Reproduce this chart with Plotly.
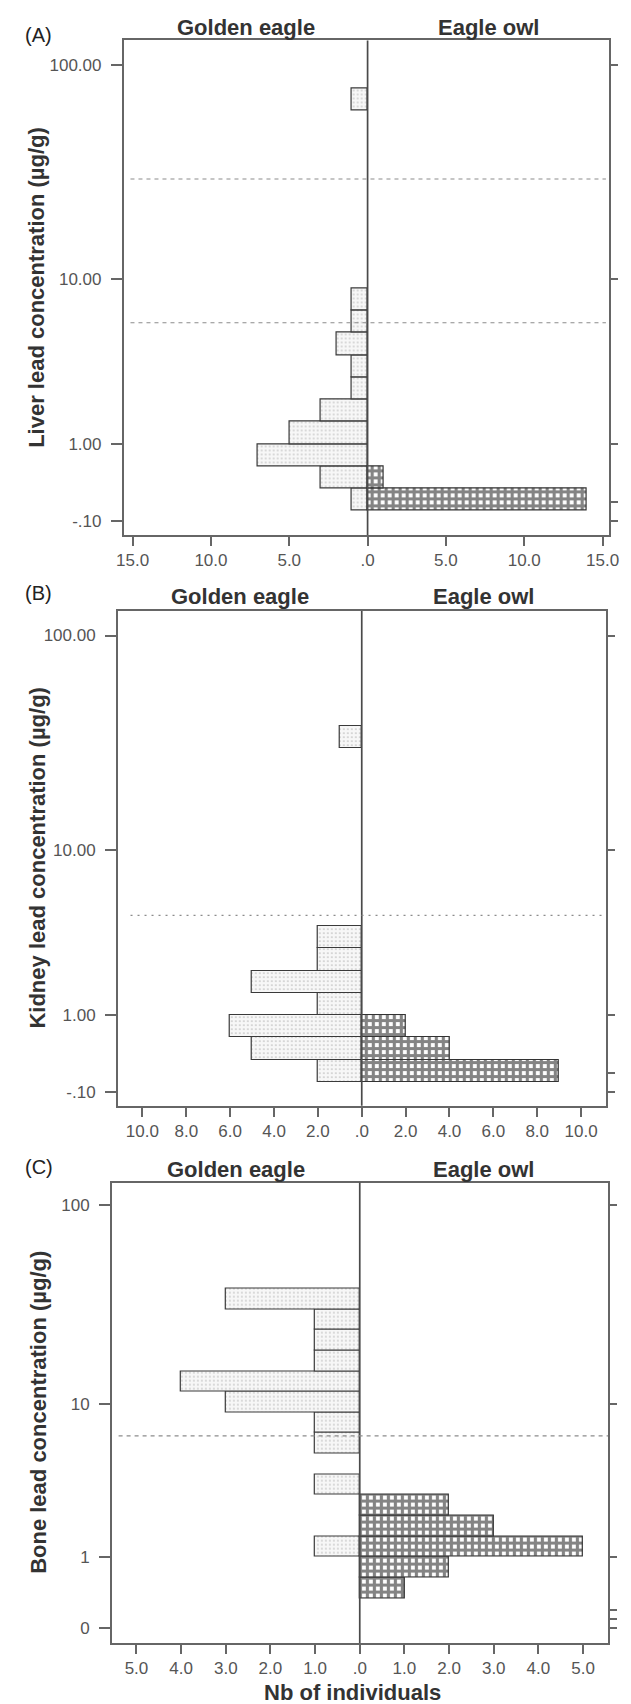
import numpy as np
import plotly.graph_objects as go

# ---------------- data (bins are 0.1-wide classes of log10(concentration + 1)) -------------
liver_golden_bins = [0, 1, 2, 3, 4, 5, 6, 7, 8, 9, 18]
liver_golden_counts = [1, 3, 7, 5, 3, 1, 1, 2, 1, 1, 1]
liver_owl_bins = [0, 1]
liver_owl_counts = [14, 1]

kidney_golden_bins = [0, 1, 2, 3, 4, 5, 6, 15]
kidney_golden_counts = [2, 5, 6, 2, 5, 2, 2, 1]
kidney_owl_bins = [0, 1, 2]
kidney_owl_counts = [9, 4, 2]

bone_golden_bins = [3, 6, 8, 9, 10, 11, 12, 13, 14, 15]
bone_golden_counts = [1, 1, 1, 1, 3, 4, 1, 1, 1, 3]
bone_owl_bins = [1, 2, 3, 4, 5]
bone_owl_counts = [1, 2, 5, 3, 2]

liver_thresholds = [6, 30]      # µg/g
kidney_thresholds = [4.6]
bone_thresholds = [6.7]

conc_ticks_ab = [100, 10, 1, -0.1]
conc_ticktext_ab = ["100.00", "10.00", "1.00", "-.10"]
conc_ticks_c = [100, 10, 1, -0.1]
conc_ticktext_c = ["100", "10", "1", "0"]
right_ticks_ab = [100, 10, 1, 0.1, -0.1]
right_ticks_c = [100, 10, 1, 0.1, 0, -0.1]

count_ticks_a = [15, 10, 5, 0, 5, 10, 15]
count_ticks_b = [10, 8, 6, 4, 2, 0, 2, 4, 6, 8, 10]
count_ticks_c = [5, 4, 3, 2, 1, 0, 1, 2, 3, 4, 5]

species = ["Golden eagle", "Eagle owl"]
ytitles = ["Liver lead concentration (µg/g)",
           "Kidney lead concentration (µg/g)",
           "Bone lead concentration (µg/g)"]
panel_labels = ["(A)", "(B)", "(C)"]
xtitle = "Nb of individuals"

BIN = 0.1


def tr(c):
    return np.log10(np.asarray(c, dtype=float) + 1.0)


def fmt_count(v):
    return ".0" if v == 0 else f"{abs(v):.1f}"


# ---------------- layout geometry (pixels) ----------------
W, H = 631, 1704
FONT = "Liberation Sans, Arial, sans-serif"
TICKFONT = "Liberation Sans Narrow, Arial Narrow, Liberation Sans, Arial, sans-serif"

panels = [
    dict(box=(119.9, 619.0, 40.4, 535.0), xr=(-15.57, 15.43), yr=(-0.109, 2.114),
         gb=liver_golden_bins, gc=liver_golden_counts, ob=liver_owl_bins, oc=liver_owl_counts,
         thr=liver_thresholds, thr_dash="4px,4px", thr_x=(0.014, 0.993),
         xt=count_ticks_a, xt_sign=[-1, -1, -1, 0, 1, 1, 1],
         yt=conc_ticks_ab, ytt=conc_ticktext_ab, rt=right_ticks_ab,
         head_y=27, lab_y=35, ytitle_x=31),
    dict(box=(113.9, 615.7, 611.1, 1105.7), xr=(-11.12, 11.14), yr=(-0.106, 2.114),
         gb=kidney_golden_bins, gc=kidney_golden_counts, ob=kidney_owl_bins, oc=kidney_owl_counts,
         thr=kidney_thresholds, thr_dash="2px,5px", thr_x=(0.026, 0.995),
         xt=count_ticks_b, xt_sign=[-1] * 5 + [0] + [1] * 5,
         yt=conc_ticks_ab, ytt=conc_ticktext_ab, rt=right_ticks_ab,
         head_y=597, lab_y=593, ytitle_x=31),
    dict(box=(107.8, 617.7, 1182.6, 1642.9), xr=(-5.55, 5.56), yr=(-0.116, 2.113),
         gb=bone_golden_bins, gc=bone_golden_counts, ob=bone_owl_bins, oc=bone_owl_counts,
         thr=bone_thresholds, thr_dash="4px,4px", thr_x=(0.0135, 1.0),
         xt=count_ticks_c, xt_sign=[-1] * 5 + [0] + [1] * 5,
         yt=conc_ticks_c, ytt=conc_ticktext_c, rt=right_ticks_c,
         head_y=1169, lab_y=1166.5, ytitle_x=33),
]

fig = go.Figure()
annotations = []
shapes = []

golden_marker = dict(color="#f6f6f6", line=dict(color="#3a3a3a", width=1.2),
                     pattern=dict(shape=".", fgcolor="#808080", bgcolor="#f7f7f7",
                                  size=4, solidity=0.14))
owl_marker = dict(color="#111111", line=dict(color="#333333", width=1.2),
                  pattern=dict(shape="+", fgcolor="#0a0a0a", bgcolor="#ffffff",
                               size=7, solidity=0.7))

axis_font = dict(family=TICKFONT, size=17, color="#555555")

for i, p in enumerate(panels):
    n = i + 1
    xa = "x" if n == 1 else f"x{n}"
    ya = "y" if n == 1 else f"y{n}"
    yr_name = f"y{n + 3}"
    x0, x1, yt0, yb0 = p["box"]
    xdom = [x0 / W, x1 / W]
    ydom = [1 - yb0 / H, 1 - yt0 / H]

    # Golden eagle (left, negative counts)
    fig.add_trace(go.Bar(
        x=-np.asarray(p["gc"], dtype=float),
        y=(np.asarray(p["gb"]) + 0.5) * BIN,
        width=BIN, orientation="h", marker=golden_marker,
        xaxis=xa, yaxis=ya, showlegend=False, name=species[0]))
    # Eagle owl (right)
    fig.add_trace(go.Bar(
        x=np.asarray(p["oc"], dtype=float),
        y=(np.asarray(p["ob"]) + 0.5) * BIN,
        width=BIN, orientation="h", marker=owl_marker,
        xaxis=xa, yaxis=ya, showlegend=False, name=species[1]))
    # dummy trace for the right-side tick axis
    fig.add_trace(go.Scatter(x=[None], y=[None], xaxis=xa, yaxis=yr_name,
                             showlegend=False, hoverinfo="skip"))

    xkey = "xaxis" if n == 1 else f"xaxis{n}"
    ykey = "yaxis" if n == 1 else f"yaxis{n}"
    tickvals_x = [s * v for s, v in zip(p["xt_sign"], p["xt"])]
    fig.update_layout(**{
        xkey: dict(domain=xdom, anchor=ya, range=list(p["xr"]),
                   tickmode="array", tickvals=tickvals_x,
                   ticktext=[fmt_count(v) for v in tickvals_x],
                   ticks="outside", ticklen=9, tickwidth=1.5, tickcolor="#666666",
                   showline=True, linecolor="#666666", linewidth=1.6, mirror=True,
                   showgrid=False, zeroline=False, tickfont=axis_font,
                   ticklabelstandoff=0, fixedrange=True),
        ykey: dict(domain=ydom, anchor=xa, range=list(p["yr"]),
                   tickmode="array", tickvals=list(tr(p["yt"])), ticktext=p["ytt"],
                   ticks="outside", ticklen=11, tickwidth=1.5, tickcolor="#666666",
                   showline=True, linecolor="#666666", linewidth=1.6, mirror=True,
                   showgrid=False, zeroline=False, tickfont=axis_font,
                   ticklabelstandoff=6, fixedrange=True),
        f"yaxis{n + 3}": dict(overlaying=ya, side="right", anchor=xa, range=list(p["yr"]),
                              tickmode="array", tickvals=list(tr(p["rt"])),
                              showticklabels=False, ticks="outside", ticklen=8,
                              tickwidth=1.5, tickcolor="#666666", showline=False,
                              showgrid=False, zeroline=False, fixedrange=True),
    })

    # centre line at zero
    shapes.append(dict(type="line", xref=xa, yref=f"{ya} domain", x0=0, x1=0, y0=0, y1=1,
                       line=dict(color="#4a4a4a", width=1.7), layer="above"))
    # threshold lines
    for t in p["thr"]:
        yv = float(tr(t))
        shapes.append(dict(type="line", xref=f"{xa} domain", yref=ya,
                           x0=p["thr_x"][0], x1=p["thr_x"][1], y0=yv, y1=yv,
                           line=dict(color="#8c8c8c", width=1.1, dash=p["thr_dash"]),
                           layer="above"))

    # species headers centred on each half of the panel
    xmin, xmax = p["xr"]
    for sp, xc in zip(species, [xmin / 2.0, xmax / 2.0]):
        annotations.append(dict(text=f"<b>{sp}</b>", xref=xa, x=xc, yref="paper",
                                y=1 - p["head_y"] / H, xanchor="center", yanchor="middle",
                                showarrow=False,
                                font=dict(family=FONT, size=22, color="#333333")))
    # panel label
    annotations.append(dict(text=panel_labels[i], xref="paper", x=16 / W, yref="paper",
                            y=1 - p["lab_y"] / H, xanchor="left", yanchor="middle",
                            showarrow=False,
                            font=dict(family=FONT, size=20, color="#222222")))
    # y title
    annotations.append(dict(text=f"<b>{ytitles[i]}</b>", xref="paper", x=p["ytitle_x"] / W,
                            yref="paper", y=(ydom[0] + ydom[1]) / 2, textangle=-90,
                            xanchor="center", yanchor="middle", showarrow=False,
                            font=dict(family=FONT, size=22, color="#333333")))

annotations.append(dict(text=f"<b>{xtitle}</b>", xref="paper", x=355.5 / W, yref="paper",
                        y=1 - 1692 / H, xanchor="center", yanchor="middle",
                        showarrow=False, font=dict(family=FONT, size=22, color="#333333")))

fig.update_layout(width=W, height=H, margin=dict(l=0, r=0, t=0, b=0),
                  paper_bgcolor="white", plot_bgcolor="white",
                  barmode="overlay", bargap=0, showlegend=False,
                  annotations=annotations, shapes=shapes,
                  font=dict(family=FONT))

fig.write_html("out.html", config={"displayModeBar": False},
               post_script="document.body.style.margin='0';"
                           "document.body.style.overflow='hidden';")
